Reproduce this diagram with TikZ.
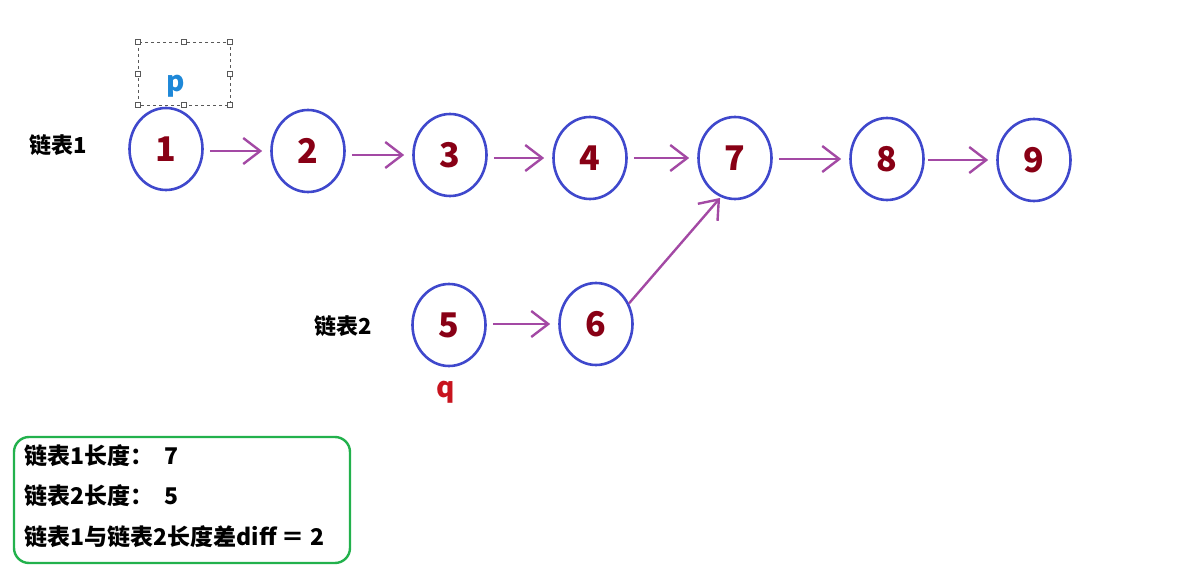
\documentclass[tikz,border=0pt]{standalone}
\usepackage{fontspec}
\setmainfont{Noto Sans CJK SC}
\usetikzlibrary{shapes.geometric,arrows.meta}
\definecolor{nodeblue}{HTML}{3F48CC}
\definecolor{numred}{HTML}{880015}
\definecolor{arrpurple}{HTML}{A349A4}
\definecolor{boxgreen}{HTML}{22B14C}
\definecolor{pblue}{HTML}{1E88D8}
\definecolor{qred}{HTML}{C8141E}
\tikzset{
  lnode/.style={ellipse, draw=nodeblue, line width=2.6pt, minimum width=73pt, minimum height=82pt, inner sep=0pt,
    text=numred, font=\fontsize{34}{34}\selectfont\bfseries},
  link/.style={draw=arrpurple, line width=2.4pt, -{Straight Barb[length=17pt,width=26pt,line width=2.4pt]},
    shorten <=6pt, shorten >=8pt},
  lbl/.style={font=\fontsize{22}{22}\selectfont\bfseries, text=black},
  info/.style={font=\fontsize{23}{23}\selectfont\bfseries, text=black, anchor=west},
  handle/.style={draw=black!65, fill=white, line width=0.8pt, minimum size=5pt, inner sep=0pt, rectangle}
}
\begin{document}
\begin{tikzpicture}[x=1pt,y=-1pt]
\useasboundingbox (0,0) rectangle (1180,588);
% nodes
\node[lnode] (n1) at (166,149) {1};
\node[lnode] (n2) at (308,151) {2};
\node[lnode] (n3) at (450,155) {3};
\node[lnode] (n4) at (590,158) {4};
\node[lnode] (n7) at (735,158) {7};
\node[lnode] (n8) at (887,159) {8};
\node[lnode] (n9) at (1034,160) {9};
\node[lnode] (n5) at (449,325) {5};
\node[lnode] (n6) at (596,324) {6};
% links
\draw[link] (n1.east |- n2) -- (n2.west);
\draw[link] (n2.east |- n3) -- (n3.west);
\draw[link] (n3.east |- n4) -- (n4.west);
\draw[link] (n4.east |- n7) -- (n7.west);
\draw[link] (n7.east |- n8) -- (n8.west);
\draw[link, shorten <=3pt] (n8.east |- n9) -- (n9.west);
\draw[link] (n5.east |- n6) -- (n6.west);
\draw[link, shorten <=0pt, shorten >=1pt] (n6.32) -- (n7.250);
% labels
\node[lbl] (l1) at (58,145) {链表1};
\node[lbl] (l2) at (343,326) {链表2};
% p selection box
\draw[black!65, dashed, line width=0.8pt] (138,42) rectangle (230,105);
\foreach \hx/\hy [count=\i] in {138/42,184/42,230/42,138/74,230/74,138/105,184/105,230/105}
  \node[handle] (h\i) at (\hx,\hy) {};
\node[text=pblue, font=\fontsize{28}{28}\selectfont\bfseries] (p) at (176,86) {p};
\node[text=qred, font=\fontsize{28}{28}\selectfont\bfseries] (q) at (446,392) {q};
% info box
\draw[boxgreen, line width=2.4pt, rounded corners=15pt] (14,437) rectangle (350,563);
\node[info] (t1) at (21,456) {链表1长度：\ \ 7};
\node[info] (t2) at (21,496) {链表2长度：\ \ 5};
\node[info] (t3) at (21,537) {链表1与链表2长度差diff ＝ 2};
\end{tikzpicture}
\end{document}
